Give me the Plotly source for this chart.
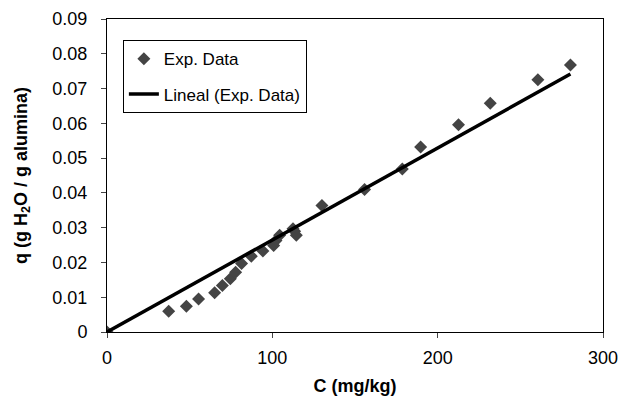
import numpy as np
import plotly.graph_objects as go

C_mgkg = [0, 37.3, 48.0, 55.4, 65.1, 69.8, 74.6, 77.8, 81.4, 87.3, 94.3, 100.8, 102.2,
          104.4, 112.5, 113.5, 114.5, 130.0, 155.8, 178.6, 189.7, 212.6, 231.8, 260.6, 280.3]
q_gg = [0, 0.0060, 0.0074, 0.0095, 0.0113, 0.0134, 0.0153, 0.0172, 0.0197, 0.0218, 0.0233,
        0.0249, 0.0263, 0.0278, 0.0297, 0.0290, 0.0278, 0.0364, 0.0410, 0.0469, 0.0532,
        0.0596, 0.0658, 0.0725, 0.0768]

# Linear trendline (through origin), slope
trend_slope = 0.0002646
trend_x = [0, max(C_mgkg)]
trend_y = [trend_slope * v for v in trend_x]

FONT = "Liberation Sans, Arial, sans-serif"

fig = go.Figure()
fig.add_trace(go.Scatter(
    x=C_mgkg, y=q_gg, mode="markers", name="Exp. Data", legendgroup="a",
    marker=dict(symbol="diamond", size=10, color="#444444"),
))
fig.add_trace(go.Scatter(
    x=trend_x, y=trend_y, mode="lines", name="Lineal (Exp. Data)", legendgroup="b",
    line=dict(color="black", width=3.5),
))

fig.update_layout(
    width=623, height=412,
    margin=dict(l=107, r=20, t=19, b=80),
    paper_bgcolor="white", plot_bgcolor="white",
    font=dict(family=FONT, size=18, color="black"),
    showlegend=True,
    legend=dict(
        x=0.032, y=0.932, xanchor="left", yanchor="top",
        bgcolor="white", bordercolor="black", borderwidth=1,
        font=dict(size=17), tracegroupgap=10,
    ),
)
fig.update_xaxes(
    range=[0, 300], tickvals=[0, 100, 200, 300], ticks="outside", ticklen=5,
    showline=True, linecolor="black", linewidth=1, mirror=True, showgrid=False,
    zeroline=False, automargin=False, ticklabelstandoff=4,
    title=dict(text="<b>C (mg/kg)</b>", font=dict(size=18), standoff=12),
)
fig.update_yaxes(
    range=[0, 0.09], dtick=0.01, tick0=0, ticks="outside", ticklen=5,
    showline=True, linecolor="black", linewidth=1, mirror=True, showgrid=False,
    zeroline=False, automargin=False, ticklabelstandoff=10,
    title=dict(text="<b>q (g H<sub>2</sub>O / g alumina)</b>", font=dict(size=18), standoff=20),
)

fig.write_html("out.html", config={"displayModeBar": False},
               post_script="document.body.style.margin='0';")
